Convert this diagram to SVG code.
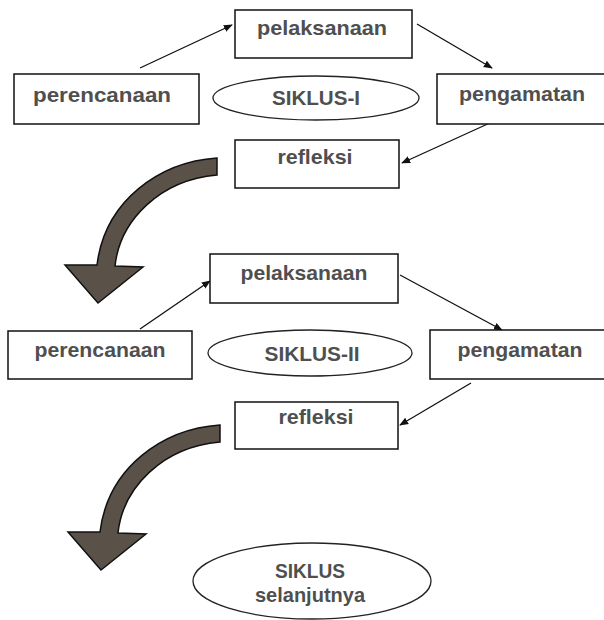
<svg xmlns="http://www.w3.org/2000/svg" width="604" height="620" viewBox="0 0 604 620">
<defs>
<style>
.box{fill:#fff;stroke:#111;stroke-width:1.5}
.ell{fill:#fff;stroke:#222;stroke-width:1.3}
.t{font-family:"Liberation Sans",Arial,sans-serif;font-weight:bold;font-size:21px;fill:#4f4f4f;text-anchor:middle}
.c{stroke:#111;stroke-width:1.3;fill:none;marker-end:url(#ah)}
.big{fill:#5a5148;stroke:#111;stroke-width:1.5;stroke-linejoin:miter}
</style>
<marker id="ah" viewBox="0 0 10 10" refX="9" refY="5" markerWidth="9" markerHeight="9" markerUnits="userSpaceOnUse" orient="auto">
<path d="M0,1 L10,5 L0,9 Z" fill="#111"/>
</marker>
<path id="bigarrow" d="M217,158 C160,162 105,200 97,265 L65,265 L98,303 L143,267 L115,266 C120,220 160,180 217,175 Z"/>
</defs>
<rect width="604" height="620" fill="#fff"/>

<g id="connectors">
<line class="c" x1="140" y1="68" x2="232" y2="25"/>
<line class="c" x1="417" y1="24" x2="492" y2="68"/>
<line class="c" x1="492" y1="122" x2="402" y2="163"/>
<line class="c" x1="140" y1="329" x2="210" y2="281"/>
<line class="c" x1="400" y1="275" x2="502" y2="330"/>
<line class="c" x1="471" y1="383" x2="400" y2="425"/>
<use href="#bigarrow" class="big"/>
<use href="#bigarrow" class="big" transform="translate(3,267)"/>
</g>

<g id="pelaksanaan1"><rect class="box" x="235" y="10" width="177" height="48"/><text class="t" x="322" y="35" textLength="130" lengthAdjust="spacingAndGlyphs">pelaksanaan</text></g>
<g id="perencanaan1"><rect class="box" x="14" y="74" width="185" height="50"/><text class="t" x="102" y="102" textLength="138" lengthAdjust="spacingAndGlyphs">perencanaan</text></g>
<g id="siklus1"><ellipse class="ell" cx="316" cy="98" rx="103" ry="22"/><text class="t" x="316" y="105" textLength="88" lengthAdjust="spacingAndGlyphs">SIKLUS-I</text></g>
<g id="pengamatan1"><rect class="box" x="437" y="74" width="172" height="50"/><text class="t" x="522" y="101" textLength="126" lengthAdjust="spacingAndGlyphs">pengamatan</text></g>
<g id="refleksi1"><rect class="box" x="235" y="140" width="164" height="48"/><text class="t" x="315" y="164" textLength="75" lengthAdjust="spacingAndGlyphs">refleksi</text></g>

<g id="pelaksanaan2"><rect class="box" x="210" y="254" width="188" height="49"/><text class="t" x="304" y="280" textLength="127" lengthAdjust="spacingAndGlyphs">pelaksanaan</text></g>
<g id="perencanaan2"><rect class="box" x="8" y="331" width="184" height="48"/><text class="t" x="100" y="357" textLength="131" lengthAdjust="spacingAndGlyphs">perencanaan</text></g>
<g id="siklus2"><ellipse class="ell" cx="310" cy="353" rx="102" ry="23"/><text class="t" x="312" y="361" textLength="95" lengthAdjust="spacingAndGlyphs">SIKLUS-II</text></g>
<g id="pengamatan2"><rect class="box" x="430" y="330" width="179" height="49"/><text class="t" x="520" y="357" textLength="125" lengthAdjust="spacingAndGlyphs">pengamatan</text></g>
<g id="refleksi2"><rect class="box" x="235" y="402" width="163" height="47"/><text class="t" x="316" y="424" textLength="75" lengthAdjust="spacingAndGlyphs">refleksi</text></g>

<g id="siklus-selanjutnya"><ellipse class="ell" cx="312" cy="581" rx="119" ry="38"/><text class="t" x="310" y="578" textLength="70" lengthAdjust="spacingAndGlyphs">SIKLUS</text><text class="t" x="310" y="602" textLength="110" lengthAdjust="spacingAndGlyphs">selanjutnya</text></g>
</svg>
